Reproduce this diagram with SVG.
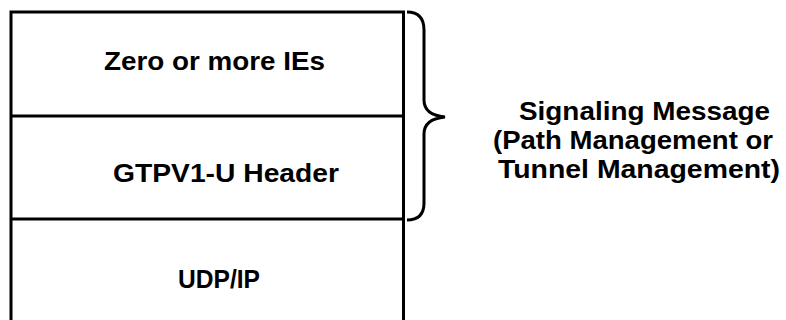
<svg xmlns="http://www.w3.org/2000/svg" width="786" height="320" viewBox="0 0 786 320">
<style>
.ln{fill:none;stroke:#000;stroke-width:3}
.t{font-family:"Liberation Sans",Arial,sans-serif;font-weight:bold;font-size:26px;fill:#000}
</style>
<rect width="786" height="320" fill="#fff"/>
<g id="ies">
<path class="ln" d="M11,330 L11,12 L403.5,12 L403.5,330"/>
<text class="t" x="104" y="70" textLength="221" lengthAdjust="spacingAndGlyphs">Zero or more IEs</text>
</g>
<g id="header">
<line class="ln" x1="11" y1="116" x2="403.5" y2="116"/>
<text class="t" x="113" y="182" textLength="226" lengthAdjust="spacingAndGlyphs">GTPV1-U Header</text>
</g>
<g id="udpip">
<line class="ln" x1="11" y1="219" x2="403.5" y2="219"/>
<text class="t" x="178" y="288" textLength="82" lengthAdjust="spacingAndGlyphs">UDP/IP</text>
</g>
<g id="connectors">
<path class="ln" d="M407,12 Q424,12 424,30 L424,100 Q424,115 445,117 Q424,119 424,134 L424,203 Q424,220 407,220"/>
</g>
<g id="signaling">
<text class="t" x="519" y="120" textLength="251" lengthAdjust="spacingAndGlyphs">Signaling Message</text>
<text class="t" x="493" y="149" textLength="280" lengthAdjust="spacingAndGlyphs">(Path Management or</text>
<text class="t" x="498" y="178" textLength="282" lengthAdjust="spacingAndGlyphs">Tunnel Management)</text>
</g>
</svg>
